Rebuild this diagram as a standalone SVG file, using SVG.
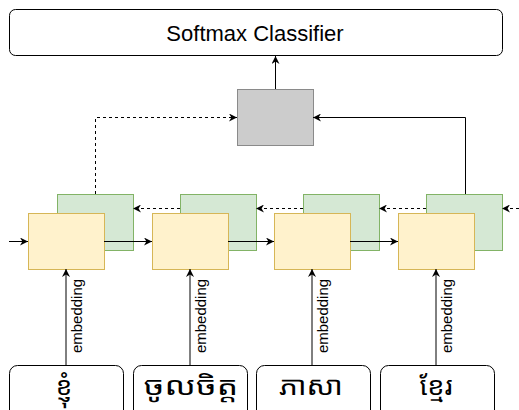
<svg xmlns="http://www.w3.org/2000/svg" width="519" height="410" viewBox="0 0 519 410">
<style>
.lbl{font-family:"Liberation Sans",Arial,sans-serif;fill:#000}
.km{font-family:"Noto Sans Khmer","Khmer OS","Noto Serif Khmer","Noto Sans",sans-serif;font-size:26px;fill:#000;text-anchor:middle}
.green{fill:#d5e8d4;stroke:#82b366;stroke-width:1}
.yellow{fill:#fff2cc;stroke:#d6b656;stroke-width:1}
.word{fill:#fff;stroke:#000;stroke-width:1}
.c{fill:none;stroke:#000;stroke-width:1}
.d{stroke-dasharray:3 3}
</style>
<defs>
<marker id="ah" viewBox="0 0 10 10" refX="10" refY="5" markerWidth="9" markerHeight="8" orient="auto" markerUnits="userSpaceOnUse">
<path d="M0,0 L10,5 L0,10 L3,5 z" fill="#000"/>
</marker>
</defs>
<rect width="519" height="410" fill="#fff"/>
<g id="softmax">
<rect x="9.5" y="9.5" width="493" height="46" rx="6" ry="6" fill="#fff" stroke="#000"/>
<text class="lbl" x="255" y="41" font-size="22" text-anchor="middle">Softmax Classifier</text>
</g>
<g id="attention">
<rect x="237.5" y="89.5" width="76" height="56" fill="#cccccc" stroke="#8a8a8a"/>
</g>
<g id="cell1"><rect class="green" x="57.5" y="194.5" width="76" height="56"/><rect class="yellow" x="28.5" y="213.5" width="76" height="56"/></g>
<g id="cell2"><rect class="green" x="180.5" y="194.5" width="76" height="56"/><rect class="yellow" x="152.5" y="213.5" width="76" height="56"/></g>
<g id="cell3"><rect class="green" x="303.5" y="194.5" width="76" height="56"/><rect class="yellow" x="274.5" y="213.5" width="76" height="56"/></g>
<g id="cell4"><rect class="green" x="426.5" y="194.5" width="76" height="56"/><rect class="yellow" x="398.5" y="213.5" width="76" height="56"/></g>
<g id="word1"><rect class="word" x="9.5" y="365.5" width="114" height="60" rx="8" ry="8"/><text class="km" transform="translate(64,395)">ខ្ញុំ</text></g>
<g id="word2"><rect class="word" x="133.5" y="365.5" width="114" height="60" rx="8" ry="8"/><text class="km" transform="translate(191,395) scale(1.3,1)">ចូលចិត្ត</text></g>
<g id="word3"><rect class="word" x="256.5" y="365.5" width="114" height="60" rx="8" ry="8"/><text class="km" transform="translate(311,395) scale(1.15,1)">ភាសា</text></g>
<g id="word4"><rect class="word" x="380.5" y="365.5" width="114" height="60" rx="8" ry="8"/><text class="km" transform="translate(436,395) scale(1.05,1)">ខ្មែរ</text></g>
<g id="connectors">
<path class="c" d="M275.5,89 V56" marker-end="url(#ah)"/>
<path class="c d" d="M95.5,194 V117.5 H237" marker-end="url(#ah)"/>
<path class="c" d="M465.5,194 V117.5 H313" marker-end="url(#ah)"/>
<path class="c" d="M9,241.5 H28" marker-end="url(#ah)"/>
<path class="c" d="M104,241.5 H152" marker-end="url(#ah)"/>
<path class="c" d="M228,241.5 H274" marker-end="url(#ah)"/>
<path class="c" d="M350,241.5 H398" marker-end="url(#ah)"/>
<path class="c d" d="M180,208.5 H133" marker-end="url(#ah)"/>
<path class="c d" d="M303,208.5 H256" marker-end="url(#ah)"/>
<path class="c d" d="M426,208.5 H379" marker-end="url(#ah)"/>
<path class="c d" d="M519,208.5 H502" marker-end="url(#ah)"/>
<path class="c" d="M66,365 V269" marker-end="url(#ah)"/>
<path class="c" d="M190,365 V269" marker-end="url(#ah)"/>
<path class="c" d="M312,365 V269" marker-end="url(#ah)"/>
<path class="c" d="M436,365 V269" marker-end="url(#ah)"/>
<g class="lbl" font-size="15" text-anchor="middle">
<text transform="translate(82,316) rotate(-90)">embedding</text>
<text transform="translate(206,316) rotate(-90)">embedding</text>
<text transform="translate(328,316) rotate(-90)">embedding</text>
<text transform="translate(452,316) rotate(-90)">embedding</text>
</g>
</g>
</svg>
